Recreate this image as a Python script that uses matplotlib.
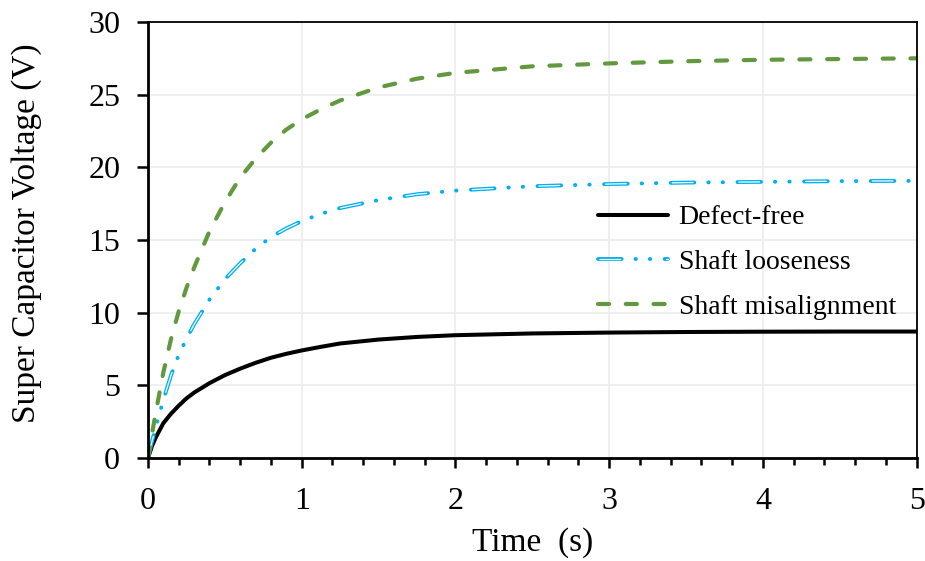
import matplotlib
matplotlib.use("Agg")
from matplotlib import pyplot as plt
from matplotlib.legend_handler import HandlerTuple
from matplotlib.ticker import MultipleLocator

# datos
tiempo = [0, 0.025, 0.05, 0.1, 0.15, 0.2, 0.25, 0.3, 0.4, 0.5, 0.6, 0.7, 0.8,
          0.9, 1.0, 1.125, 1.25, 1.5, 1.75, 2.0, 2.5, 3.0, 3.5, 4.0, 4.5, 5.0]
sin_defecto = [0, 0.8, 1.4, 2.4, 3.05, 3.6, 4.1, 4.5, 5.15, 5.7, 6.15, 6.55, 6.9,
               7.17, 7.4, 7.65, 7.88, 8.15, 8.33, 8.45, 8.57, 8.63, 8.67, 8.69, 8.7, 8.7]
eje_suelto = [0, 1.1, 2.1, 4.0, 5.7, 7.1, 8.2, 9.2, 10.9, 12.3, 13.4, 14.4, 15.2,
              15.8, 16.3, 16.8, 17.2, 17.75, 18.15, 18.4, 18.7, 18.85, 18.95, 19.0, 19.05, 19.07]
desalineado = [0, 1.6, 3.1, 5.9, 8.2, 10.1, 11.7, 13.1, 15.6, 17.6, 19.3, 20.6, 21.7,
               22.6, 23.3, 24.0, 24.6, 25.5, 26.1, 26.5, 26.95, 27.15, 27.3, 27.4, 27.45, 27.5]
etiquetas = ['Defect-free', 'Shaft looseness', 'Shaft misalignment']

plt.rcParams['font.family'] = ['Liberation Serif', 'DejaVu Serif']
plt.rcParams['lines.scale_dashes'] = False

fig = plt.figure(figsize=(9.25, 5.61), dpi=100)
ax = fig.add_axes([0.160, 0.1836, 0.831, 0.7772])

azul = '#00B0F0'
verde = '#62993E'

l1, = ax.plot(tiempo, sin_defecto, color='black', lw=2.9, solid_capstyle='round')

# linea doble (borde azul, centro blanco) con patron raya-punto-punto
l2, = ax.plot(tiempo, eje_suelto, color=azul, lw=2.8,
              dashes=(17, 10, 0.3, 10, 0.3, 10.4), dash_capstyle='round')
l2b, = ax.plot(tiempo, eje_suelto, color='white', lw=0.9,
               linestyle=(47, (15, 33)), dash_capstyle='round')

l3, = ax.plot(tiempo, desalineado, color=verde, lw=3.0,
              dashes=(8, 12), dash_capstyle='round')

ax.set_xlim(0, 5)
ax.set_ylim(0, 30)
ax.xaxis.set_major_locator(MultipleLocator(1))
ax.xaxis.set_minor_locator(MultipleLocator(0.2))
ax.yaxis.set_major_locator(MultipleLocator(5))

ax.grid(True, which='major', color='#eeeeee', lw=1.3)
ax.set_axisbelow(True)

for s in ax.spines.values():
    s.set_linewidth(1.3)
ax.spines['left'].set_linewidth(2)
ax.spines['bottom'].set_linewidth(2)

ax.tick_params(axis='x', which='major', direction='out', length=7, width=1.8,
               labelsize=23, pad=14)
ax.tick_params(axis='x', which='minor', direction='out', length=5, width=1.8)
ax.tick_params(axis='y', which='major', direction='out', length=8, width=1.8,
               labelsize=23, pad=12)

ax.set_xlabel('Time  (s)', fontsize=24)
ax.set_ylabel('Super Capacitor Voltage (V)', fontsize=24)
ax.xaxis.set_label_coords(0.5, -0.158)
ax.yaxis.set_label_coords(-0.138, 0.515)

ax.legend([l1, (l2, l2b), l3], etiquetas,
          handler_map={tuple: HandlerTuple(ndivide=1, pad=0)},
          loc='upper left', bbox_to_anchor=(0.553, 0.638), frameon=False,
          fontsize=20, handlelength=2.5, handletextpad=0.4, labelspacing=0.7)

fig.savefig('out.png', dpi=100)
